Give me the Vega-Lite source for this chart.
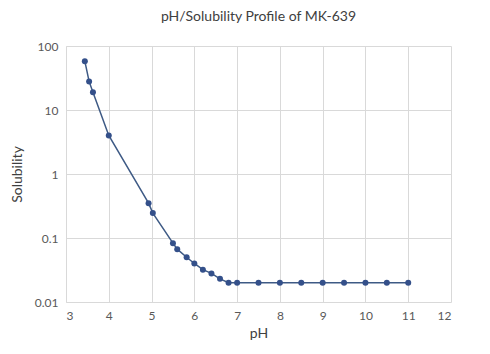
{
  "$schema": "https://vega.github.io/schema/vega-lite/v6.json",
  "width": 385,
  "height": 256,
  "autosize": "none",
  "padding": {"left": 66, "top": 46, "right": 39, "bottom": 52},
  "background": "white",
  "title": {"text": "pH/Solubility Profile of MK-639", "fontSize": 14, "font": "Lato", "fontWeight": "normal", "color": "#404040", "offset": 16, "anchor": "middle"},
  "config": {"view": {"stroke": null}},
  "data": {"values": [
    {"pH": 3.44, "Solubility": 58},
    {"pH": 3.54, "Solubility": 28},
    {"pH": 3.63, "Solubility": 19},
    {"pH": 4.0, "Solubility": 4.0},
    {"pH": 4.93, "Solubility": 0.35},
    {"pH": 5.03, "Solubility": 0.245},
    {"pH": 5.5, "Solubility": 0.083},
    {"pH": 5.6, "Solubility": 0.067},
    {"pH": 5.82, "Solubility": 0.05},
    {"pH": 6.0, "Solubility": 0.04},
    {"pH": 6.2, "Solubility": 0.032},
    {"pH": 6.4, "Solubility": 0.028},
    {"pH": 6.6, "Solubility": 0.023},
    {"pH": 6.8, "Solubility": 0.02},
    {"pH": 7.0, "Solubility": 0.02},
    {"pH": 7.5, "Solubility": 0.02},
    {"pH": 8.0, "Solubility": 0.02},
    {"pH": 8.5, "Solubility": 0.02},
    {"pH": 9.0, "Solubility": 0.02},
    {"pH": 9.5, "Solubility": 0.02},
    {"pH": 10.0, "Solubility": 0.02},
    {"pH": 10.5, "Solubility": 0.02},
    {"pH": 11.0, "Solubility": 0.02}
  ]},
  "encoding": {
    "x": {"field": "pH", "type": "quantitative",
      "scale": {"domain": [3, 12], "nice": false, "zero": false},
      "axis": {"values": [3,4,5,6,7,8,9,10,11,12], "title": "pH", "titleFont": "Lato", "titleFontSize": 14, "titleFontWeight": "normal", "titleColor": "#404040", "titlePadding": 5,
        "labelFont": "Lato", "labelFontSize": 12, "labelColor": "#595959", "labelPadding": 8, "ticks": false, "domain": false, "grid": true, "gridColor": "#D9D9D9"}},
    "y": {"field": "Solubility", "type": "quantitative",
      "scale": {"type": "log", "domain": [0.01, 100], "nice": false},
      "axis": {"values": [0.01, 0.1, 1, 10, 100], "format": "~g", "title": "Solubility", "titleFont": "Lato", "titleFontSize": 14, "titleFontWeight": "normal", "titleColor": "#404040", "titlePadding": 10,
        "labelFont": "Lato", "labelFontSize": 12, "labelColor": "#595959", "labelPadding": 8, "ticks": false, "domain": true, "domainColor": "#D9D9D9", "grid": true, "gridColor": "#D9D9D9"}}
  },
  "layer": [
    {"mark": {"type": "line", "interpolate": "linear", "color": "#3E5A85", "strokeWidth": 1.5}},
    {"mark": {"type": "point", "filled": true, "color": "#34508A", "size": 36, "opacity": 1}}
  ]
}
